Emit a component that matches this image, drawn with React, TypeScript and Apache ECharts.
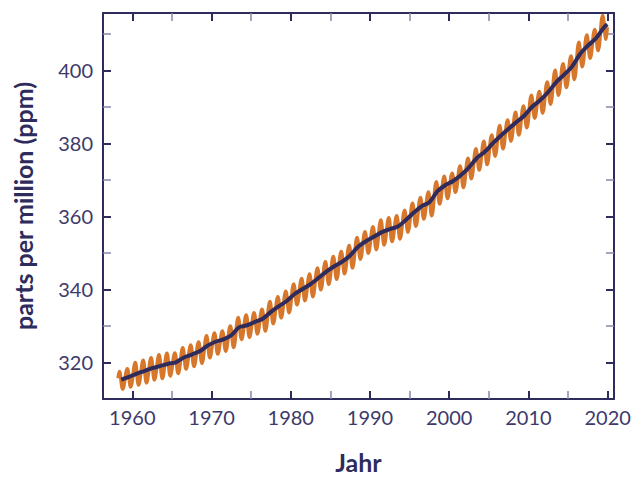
import React, { useEffect, useRef } from "react";
import * as echarts from "echarts";

// Mauna Loa CO2 record (ppm)
const firstYear = 1958;
const years: number[] = [
  1958, 1959, 1960, 1961, 1962, 1963, 1964, 1965, 1966, 1967,
  1968, 1969, 1970, 1971, 1972, 1973, 1974, 1975, 1976, 1977,
  1978, 1979, 1980, 1981, 1982, 1983, 1984, 1985, 1986, 1987,
  1988, 1989, 1990, 1991, 1992, 1993, 1994, 1995, 1996, 1997,
  1998, 1999, 2000, 2001, 2002, 2003, 2004, 2005, 2006, 2007,
  2008, 2009, 2010, 2011, 2012, 2013, 2014, 2015, 2016, 2017,
  2018, 2019,
];
// seasonal maximum (around May)
const springPeak: number[] = [
  317.5, 318.3, 320.0, 320.6, 321.3, 322.1, 322.5, 322.6, 324.0, 324.8,
  325.6, 327.3, 328.1, 328.6, 330.0, 332.3, 333.0, 333.6, 334.6, 336.7,
  338.0, 339.5, 341.5, 343.0, 344.2, 345.9, 347.6, 349.0, 350.4, 352.0,
  354.2, 355.8, 357.2, 359.0, 359.6, 360.2, 361.7, 363.6, 365.2, 366.7,
  369.5, 371.0, 371.8, 373.8, 375.9, 378.5, 380.6, 382.3, 384.9, 386.4,
  388.5, 390.2, 393.2, 394.2, 396.8, 400.0, 401.8, 403.9, 407.7, 409.7,
  411.2, 415.0,
];
// seasonal minimum (around September / October)
const autumnLow: number[] = [
  312.7, 313.3, 313.8, 314.4, 315.2, 315.6, 316.3, 317.0, 318.2, 318.9,
  319.8, 321.3, 322.3, 323.1, 324.1, 326.3, 326.9, 327.8, 328.6, 330.6,
  332.2, 333.6, 335.8, 336.9, 338.0, 339.9, 341.4, 342.8, 344.3, 345.9,
  348.3, 349.9, 350.9, 352.2, 353.1, 353.8, 355.7, 357.3, 359.3, 360.2,
  363.4, 364.9, 366.6, 367.9, 370.3, 372.7, 374.2, 376.5, 378.5, 380.6,
  382.3, 384.3, 386.9, 388.3, 390.7, 393.2, 395.3, 397.5, 401.0, 403.3,
  405.4, 408.5,
];
// first and last monthly readings: [year, ppm]
const firstReading: [number, number] = [1958.2, 315.7];
const lastReading: [number, number] = [2019.95, 411.8];
// de-seasonalised trend (annual means)
const annualMean: number[] = [
  315.3, 315.98, 316.91, 317.64, 318.45, 318.99, 319.62, 320.04, 321.37, 322.18,
  323.05, 324.62, 325.68, 326.32, 327.46, 329.68, 330.19, 331.12, 332.03, 333.84,
  335.41, 336.84, 338.76, 340.12, 341.48, 343.15, 344.87, 346.35, 347.61, 349.31,
  351.69, 353.20, 354.45, 355.70, 356.54, 357.21, 358.96, 360.97, 362.74, 363.88,
  366.84, 368.54, 369.71, 371.32, 373.45, 375.98, 377.70, 379.98, 382.09, 384.02,
  385.83, 387.64, 390.10, 391.85, 394.06, 396.74, 398.81, 401.01, 404.41, 406.76,
  408.72, 411.66,
];
const trendEnd: [number, number] = [2019.95, 412.6];

const xTitle = "Jahr";
const yTitle = "parts per million (ppm)";

const NAVY = "#2e2b5d";
const LABEL = "#3d3a6b";
const MINOR = "#8986a8";
const ORANGE = "#d6772b";
const FONT = "Lato, 'Noto Sans', sans-serif";

export default function App() {
  const ref = useRef<HTMLDivElement>(null);
  useEffect(() => {
    if (!ref.current) return;
    const chart = echarts.init(ref.current, null, { renderer: "svg" });

    const seasonal: [number, number][] = [firstReading];
    years.forEach((y, i) => {
      seasonal.push([y + 0.37, springPeak[i]]);
      seasonal.push([y + 0.79, autumnLow[i]]);
    });
    seasonal.push(lastReading);

    const trend: [number, number][] = years.map((y, i) => [
      y === firstYear ? y + 0.6 : y + 0.5,
      annualMean[i],
    ]);
    trend.push(trendEnd);

    const axisCommon = {
      type: "value" as const,
      axisLine: { show: true, onZero: false, lineStyle: { color: NAVY, width: 2 } },
      axisTick: { show: true, inside: true, length: 8, lineStyle: { color: NAVY, width: 2 } },
      minorTick: { show: true, splitNumber: 2, length: 8, lineStyle: { color: MINOR, width: 1.5 } },
      splitLine: { show: false },
      minorSplitLine: { show: false },
    };
    const labelStyle = {
      color: LABEL,
      fontSize: 20,
      fontFamily: FONT,
      showMinLabel: false,
      showMaxLabel: false,
      formatter: (v: number) => String(v),
    };
    const nameStyle = {
      color: NAVY,
      fontSize: 25,
      fontWeight: "bold" as const,
      fontFamily: FONT,
      lineHeight: 26,
    };
    const xRange = { min: 1956.3, max: 2020.8, minInterval: 10, maxInterval: 10 };
    const yRange = { min: 310, max: 415.7, minInterval: 20, maxInterval: 20 };

    chart.setOption({
      animation: false,
      grid: { left: 103, right: 19, top: 13, bottom: 78, outerBoundsMode: "none" },
      xAxis: [
        {
          ...axisCommon,
          ...xRange,
          position: "bottom",
          axisLabel: { ...labelStyle, margin: 8 },
          name: xTitle,
          nameLocation: "middle",
          nameGap: 50,
          nameTextStyle: nameStyle,
        },
        {
          ...axisCommon,
          ...xRange,
          position: "top",
          axisLabel: { show: false },
        },
      ],
      yAxis: [
        {
          ...axisCommon,
          ...yRange,
          position: "left",
          axisLabel: { ...labelStyle, margin: 10 },
          name: yTitle,
          nameLocation: "middle",
          nameGap: 67,
          nameTextStyle: nameStyle,
        },
        {
          ...axisCommon,
          ...yRange,
          position: "right",
          axisLabel: { show: false },
        },
      ],
      series: [
        {
          type: "line",
          data: seasonal,
          showSymbol: false,
          symbol: "none",
          smooth: 0.4,
          lineStyle: { color: ORANGE, width: 3.5 },
          clip: true,
          z: 2,
        },
        {
          type: "line",
          data: trend,
          showSymbol: false,
          symbol: "none",
          smooth: 0.3,
          lineStyle: { color: NAVY, width: 4 },
          clip: true,
          z: 3,
        },
      ],
    });
    return () => chart.dispose();
  }, []);

  return (
    <div
      ref={ref}
      style={{ position: "fixed", left: 0, top: 0, width: 633, height: 477, background: "#fff" }}
    />
  );
}
